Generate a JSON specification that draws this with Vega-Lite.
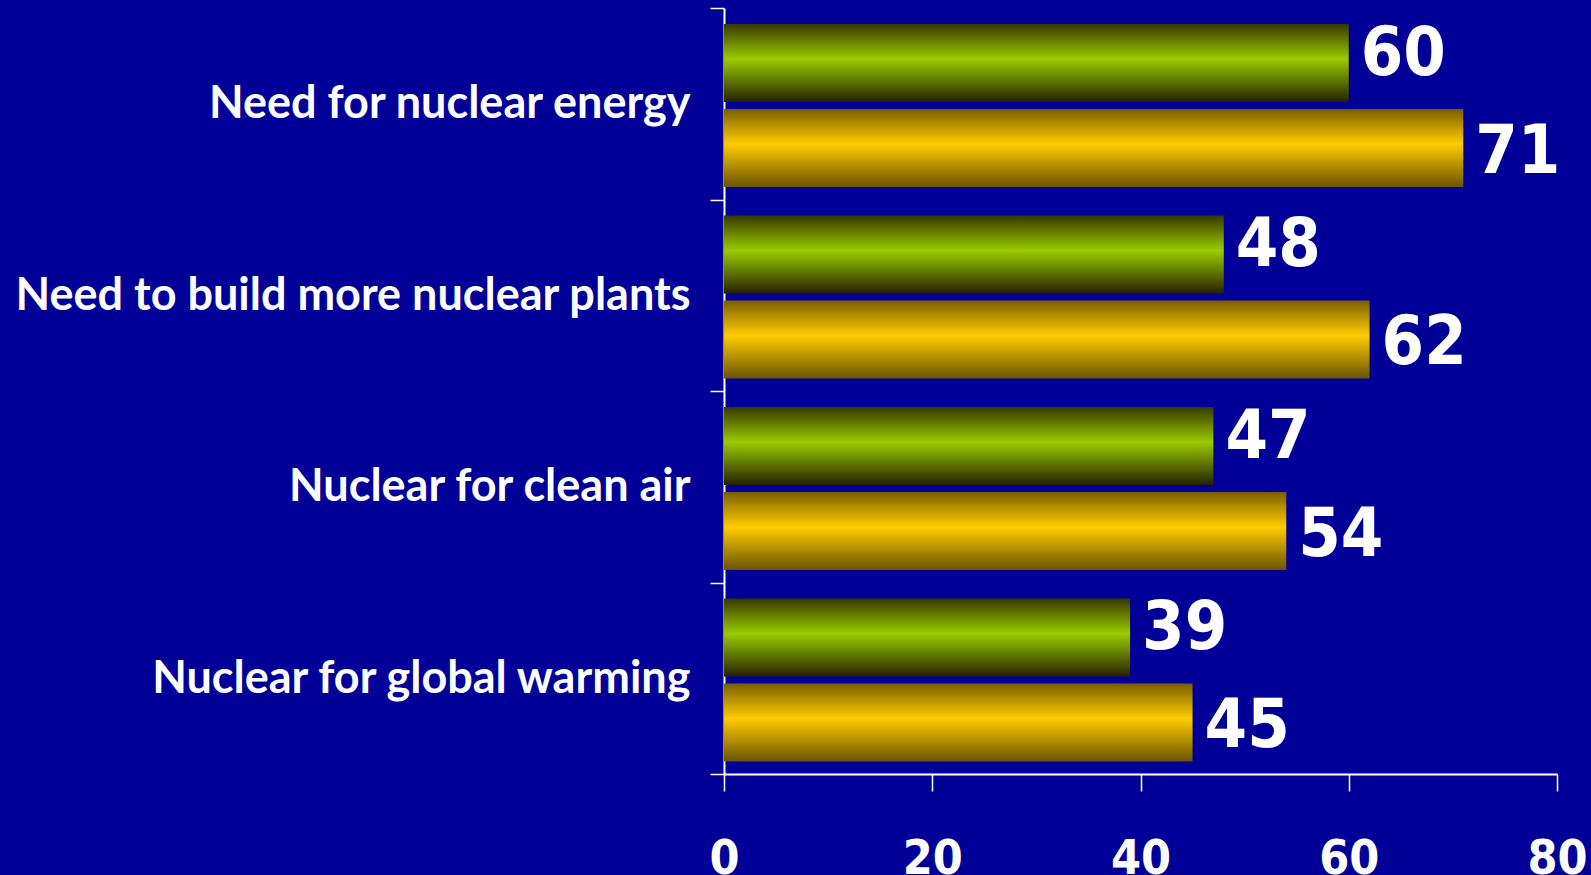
{
  "$schema": "https://vega.github.io/schema/vega-lite/v6.json",
  "width": 833,
  "height": 766,
  "autosize": {"type": "none"},
  "padding": {"left": 724, "top": 8, "right": 34, "bottom": 101},
  "background": "#000099",
  "config": {
    "view": {"stroke": null},
    "axis": {"grid": false, "domainColor": "#ffffff", "tickColor": "#ffffff", "labelColor": "#ffffff", "title": null}
  },
  "data": {
    "values": [
      {"item": "Need for nuclear energy", "survey": "first", "pct": 60},
      {"item": "Need for nuclear energy", "survey": "second", "pct": 71},
      {"item": "Need to build more nuclear plants", "survey": "first", "pct": 48},
      {"item": "Need to build more nuclear plants", "survey": "second", "pct": 62},
      {"item": "Nuclear for clean air", "survey": "first", "pct": 47},
      {"item": "Nuclear for clean air", "survey": "second", "pct": 54},
      {"item": "Nuclear for global warming", "survey": "first", "pct": 39},
      {"item": "Nuclear for global warming", "survey": "second", "pct": 45}
    ]
  },
  "encoding": {
    "y": {
      "field": "item", "type": "nominal", "sort": null,
      "scale": {"paddingInner": 0, "paddingOuter": 0},
      "axis": {
        "tickBand": "extent", "tickSize": 14, "tickWidth": 1.5, "domainWidth": 2,
        "labelFont": "Lato", "labelFontWeight": "bold", "labelFontSize": 45,
        "labelPadding": 20, "labelLimit": 720
      }
    },
    "yOffset": {
      "field": "survey", "type": "nominal", "sort": ["first", "second"],
      "scale": {"paddingInner": 0.082, "paddingOuter": 0.168, "align": 0.56}
    },
    "x": {
      "field": "pct", "type": "quantitative",
      "scale": {"domain": [0, 80]},
      "axis": {
        "values": [0, 20, 40, 60, 80], "tickSize": 17, "tickWidth": 1.5, "domainWidth": 2,
        "labelFont": "DejaVu Sans Condensed", "labelFontWeight": "bold", "labelFontSize": 48,
        "labelBaseline": "top", "labelPadding": 44, "labelFlush": false
      }
    }
  },
  "layer": [
    {
      "mark": {"type": "bar"},
      "encoding": {
        "color": {
          "condition": {
            "test": "datum.survey === 'first'",
            "value": {
              "gradient": "linear", "x1": 0, "y1": 0, "x2": 0, "y2": 1,
              "stops": [
                {"offset": 0, "color": "#383800"},
                {"offset": 0.45, "color": "#99cc00"},
                {"offset": 1, "color": "#262000"}
              ]
            }
          },
          "value": {
            "gradient": "linear", "x1": 0, "y1": 0, "x2": 0, "y2": 1,
            "stops": [
              {"offset": 0, "color": "#7a5e00"},
              {"offset": 0.45, "color": "#ffcc00"},
              {"offset": 1, "color": "#6a5400"}
            ]
          }
        }
      }
    },
    {
      "transform": [{"filter": "datum.survey === 'first'"}],
      "mark": {
        "type": "text", "align": "left", "baseline": "top", "dx": 12, "dy": -42,
        "font": "DejaVu Sans Condensed", "fontWeight": "bold", "fontSize": 68, "color": "#ffffff"
      },
      "encoding": {"text": {"field": "pct", "type": "quantitative"}}
    },
    {
      "transform": [{"filter": "datum.survey === 'second'"}],
      "mark": {
        "type": "text", "align": "left", "baseline": "middle", "dx": 12, "dy": 5,
        "font": "DejaVu Sans Condensed", "fontWeight": "bold", "fontSize": 68, "color": "#ffffff"
      },
      "encoding": {"text": {"field": "pct", "type": "quantitative"}}
    }
  ]
}
